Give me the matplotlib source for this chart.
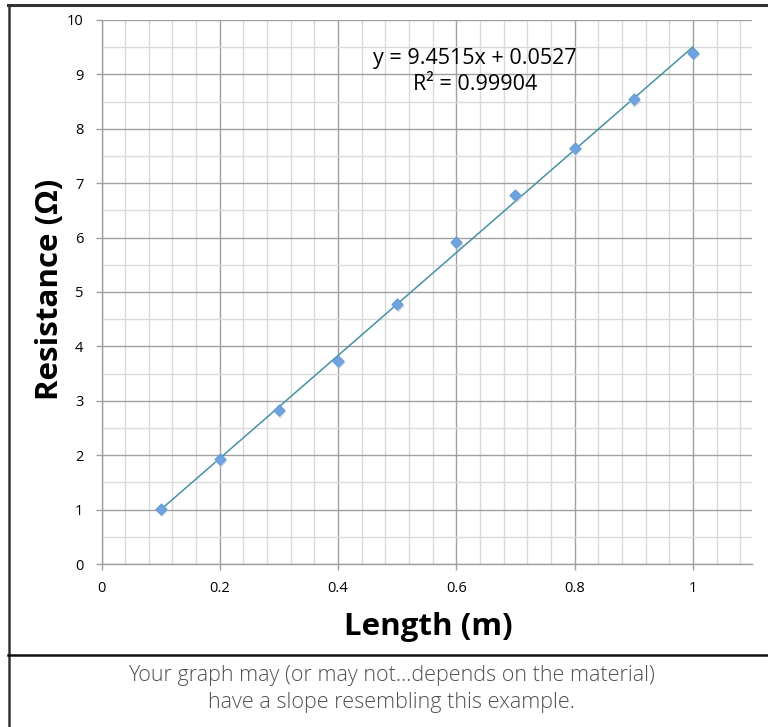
import matplotlib
matplotlib.use("Agg")
import matplotlib.pyplot as plt
from matplotlib.lines import Line2D
import numpy as np

# ---- data ----
length_m = [0.1, 0.2, 0.3, 0.4, 0.5, 0.6, 0.7, 0.8, 0.9, 1.0]
resistance_ohm = [1.02, 1.925, 2.83, 3.74, 4.78, 5.91, 6.79, 7.65, 8.54, 9.40]
fit_slope = 9.4515
fit_intercept = 0.0527
fit_r2 = 0.99904
x_ticks = [0, 0.2, 0.4, 0.6, 0.8, 1]
x_tick_labels = ["0", "0.2", "0.4", "0.6", "0.8", "1"]
y_ticks = list(range(0, 11))
x_label = "Length (m)"
y_label = "Resistance (Ω)"
caption = "Your graph may (or may not…depends on the material)\nhave a slope resembling this example."

plt.rcParams['font.family'] = ['Open Sans', 'DejaVu Sans']

fig = plt.figure(figsize=(7.68, 7.27), dpi=100)
ax = fig.add_axes([0.1322, 0.2242, 0.8470, 0.7483])

ax.set_xlim(0, 1.1)
ax.set_ylim(0, 10)

# grid
ax.set_xticks(x_ticks)
ax.set_xticklabels(x_tick_labels)
ax.set_xticks(np.arange(0, 1.1001, 0.04), minor=True)
ax.set_yticks(y_ticks)
ax.set_yticks(np.arange(0, 10.001, 0.5), minor=True)
ax.grid(which='minor', color='#dadada', linewidth=1.0, zorder=0)
ax.grid(which='major', color='#a0a0a0', linewidth=1.0, zorder=0)
ax.set_axisbelow(True)

for s in ['top', 'right']:
    ax.spines[s].set_visible(False)
for s in ['left', 'bottom']:
    ax.spines[s].set_color('#a0a0a0')
    ax.spines[s].set_linewidth(1.0)

ax.tick_params(which='major', axis='both', direction='out', length=4, color='#a0a0a0',
               labelsize=10.5, width=1, labelcolor='black')
ax.tick_params(which='minor', length=0)
ax.tick_params(axis='x', pad=8)
ax.tick_params(axis='y', pad=9)

# trendline
xf = np.array([min(length_m), max(length_m)])
ax.plot(xf, fit_slope * xf + fit_intercept, color='#4592a3', linewidth=1.1, zorder=3)

# markers (with soft shadow)
ax.scatter(np.array(length_m) + 0.002, np.array(resistance_ohm) - 0.04, marker='D', s=40,
           color='#b9c7d8', edgecolors='none', zorder=3.5, alpha=0.7)
ax.scatter(length_m, resistance_ohm, marker='D', s=34, color='#6ea3e0',
           edgecolors='#5b92d4', linewidths=0.5, zorder=4)

ax.text(0.631, 9.05, f"y = {fit_slope}x + {fit_intercept}\nR² = {fit_r2}",
        ha='center', va='center', fontsize=15.5, linespacing=1.3, color='black', zorder=5)

ax.set_xlabel(x_label, fontsize=22.5, fontweight='bold')
ax.set_ylabel(y_label, fontsize=22.5, fontweight='bold')
ax.xaxis.set_label_coords(0.503, -0.115)
ax.yaxis.set_label_coords(-0.0795, 0.505)
ax.xaxis.label.set_va('center')
ax.yaxis.label.set_va('center')

# frame lines
fig.add_artist(Line2D([8 / 768, 1.0], [1 - 5 / 727, 1 - 5 / 727], color='#333333', linewidth=2.2))
fig.add_artist(Line2D([9 / 768, 9 / 768], [0, 1 - 5 / 727], color='#333333', linewidth=1.8))
fig.add_artist(Line2D([8 / 768, 1.0], [1 - 655 / 727, 1 - 655 / 727], color='#111111', linewidth=1.8))

fig.text(391 / 768, 1 - 689 / 727, caption, ha='center', va='center', fontsize=15.5,
         fontweight='light', color='#505050', linespacing=1.38)

fig.savefig("out.png", dpi=100)
